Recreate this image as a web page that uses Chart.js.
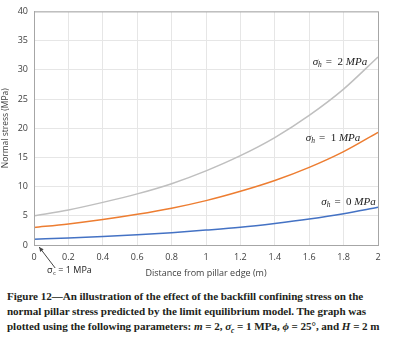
<!DOCTYPE html>
<html>
<head>
<meta charset="utf-8">
<script src="https://cdn.jsdelivr.net/npm/chart.js@4"></script>
<style>
  body { margin: 0; background: #fff; }
  #wrap { position: relative; width: 394px; height: 285px; }
  #caption {
    position: absolute; left: 7px; top: 289px; width: 387px;
    font: bold 11.1px "Liberation Serif", serif; line-height: 15px; color: #231f20;
    white-space: nowrap; letter-spacing: -0.05px;
  }
  #caption sub { font-size: 7.5px; }
</style>
</head>
<body>
<div id="wrap"><canvas id="chart" width="394" height="285"></canvas></div>
<div id="caption">
  Figure 12—An illustration of the effect of the backfill confining stress on the<br>
  normal pillar stress predicted by the limit equilibrium model. The graph was<br>
  plotted using the following parameters: <i>m</i> = 2, <i>σ<sub>c</sub></i> = 1 MPa, <i>ϕ</i> = 25°, and <i>H</i> = 2 m
</div>
<script>
// distance from pillar edge (m)
const distance = [0, 0.2, 0.4, 0.6, 0.8, 1.0, 1.2, 1.4, 1.6, 1.8, 2.0];
// normal stress (MPa) for each backfill stress
const stress0 = [1.0, 1.2, 1.45, 1.75, 2.1, 2.55, 3.05, 3.7, 4.45, 5.35, 6.45];
const stress1 = [3.0, 3.6, 4.35, 5.25, 6.3, 7.6, 9.2, 11.05, 13.3, 16.0, 19.3];
const stress2 = [5.0, 6.0, 7.3, 8.75, 10.5, 12.7, 15.3, 18.4, 22.2, 26.7, 32.2];
const xTicks = [0, 0.2, 0.4, 0.6, 0.8, 1, 1.2, 1.4, 1.6, 1.8, 2];

const toPts = arr => arr.map((v, i) => ({ x: distance[i], y: v }));

const curveLabels = [
  { text: '2', x: 1.62, y: 31.3 },
  { text: '1', x: 1.58, y: 18.3 },
  { text: '0', x: 1.67, y: 7.4 }
];

const labelPlugin = {
  id: 'labels',
  afterDraw(chart) {
    const { ctx, scales: { x, y } } = chart;
    ctx.save();
    ctx.fillStyle = '#222';
    ctx.textBaseline = 'middle';
    curveLabels.forEach(l => {
      let px = x.getPixelForValue(l.x), py = y.getPixelForValue(l.y);
      ctx.font = 'italic 11px "Liberation Serif", serif';
      ctx.fillText('σ', px, py);
      px += ctx.measureText('σ').width;
      ctx.font = 'italic 7.5px "Liberation Serif", serif';
      ctx.fillText('h', px, py + 3);
      px += ctx.measureText('h').width + 4;
      ctx.font = '11px "Liberation Serif", serif';
      ctx.fillText('=  ' + l.text + ' ', px, py);
      px += ctx.measureText('=  ' + l.text + ' ').width;
      ctx.font = 'italic 11px "Liberation Serif", serif';
      ctx.fillText('MPa', px, py);
    });
    // sigma_c annotation arrow
    const ax = x.getPixelForValue(0.03), ay = y.getPixelForValue(0) + 2;
    const bx = ax + 16, by = ay + 21;
    ctx.strokeStyle = '#444';
    ctx.fillStyle = '#444';
    ctx.lineWidth = 1;
    ctx.beginPath(); ctx.moveTo(bx, by); ctx.lineTo(ax, ay); ctx.stroke();
    const ang = Math.atan2(ay - by, ax - bx);
    ctx.beginPath();
    ctx.moveTo(ax, ay);
    ctx.lineTo(ax - 5 * Math.cos(ang - 0.45), ay - 5 * Math.sin(ang - 0.45));
    ctx.lineTo(ax - 5 * Math.cos(ang + 0.45), ay - 5 * Math.sin(ang + 0.45));
    ctx.closePath(); ctx.fill();
    ctx.fillStyle = '#222';
    ctx.font = '9px "Open Sans", sans-serif';
    ctx.fillText('σ', 47, 270);
    ctx.font = '6px "Open Sans", sans-serif';
    ctx.fillText('c', 53, 273);
    ctx.font = '9px "Open Sans", sans-serif';
    ctx.fillText(' = 1 MPa', 56, 270);
    ctx.restore();
  }
};

const line = (data, color) => ({
  data: toPts(data), borderColor: color, borderWidth: 1.5,
  pointRadius: 0, cubicInterpolationMode: 'monotone', fill: false
});

new Chart(document.getElementById('chart'), {
  type: 'line',
  data: {
    datasets: [
      line(stress2, '#BFBFBF'),
      line(stress1, '#ED7D31'),
      line(stress0, '#4472C4')
    ]
  },
  options: {
    responsive: false,
    animation: false,
    layout: { padding: { left: 0, right: 16, top: 8, bottom: 6 } },
    plugins: { legend: { display: false }, tooltip: { enabled: false } },
    scales: {
      x: {
        type: 'linear', min: 0, max: 2,
        afterBuildTicks: s => { s.ticks = xTicks.map(v => ({ value: v })); },
        afterFit: s => { s.height = 34; },
        grid: { color: '#E6E6E6', drawTicks: false },
        border: { color: '#A6A6A6' },
        ticks: {
          color: '#404040', padding: 7, maxRotation: 0,
          font: { family: 'Open Sans', size: 9 },
          callback: v => String(Math.round(v * 10) / 10)
        },
        title: { display: true, text: 'Distance from pillar edge (m)', color: '#404040', padding: 0, font: { family: 'Open Sans', size: 9 } }
      },
      y: {
        min: 0, max: 40,
        afterFit: s => { s.width = 34; },
        grid: { color: '#E6E6E6', drawTicks: false },
        border: { color: '#A6A6A6' },
        ticks: { stepSize: 5, color: '#404040', padding: 6, font: { family: 'Open Sans', size: 9 } },
        title: { display: true, text: 'Normal stress (MPa)', color: '#404040', padding: 0, font: { family: 'Open Sans', size: 8.5 } }
      }
    }
  },
  plugins: [labelPlugin, {
    id: 'frame',
    afterDraw(chart) {
      const { ctx, chartArea: a } = chart;
      ctx.save();
      ctx.strokeStyle = '#A6A6A6';
      ctx.lineWidth = 1;
      ctx.strokeRect(a.left + 0.5, a.top + 0.5, a.right - a.left, a.bottom - a.top);
      ctx.restore();
    }
  }]
});
</script>
</body>
</html>
